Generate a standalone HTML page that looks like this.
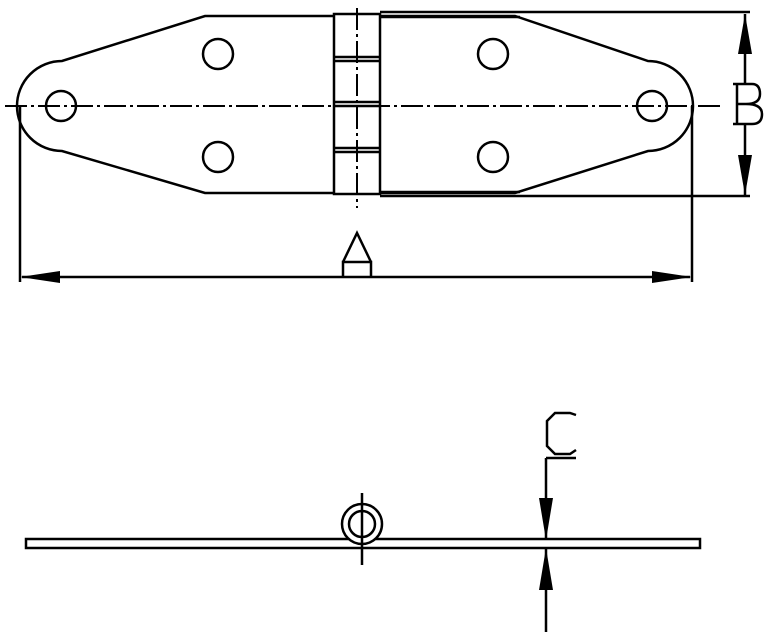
<!DOCTYPE html>
<html><head><meta charset="utf-8"><style>body{margin:0;background:#fff}svg{display:block}</style></head><body>
<svg width="770" height="636" viewBox="0 0 770 636" xmlns="http://www.w3.org/2000/svg" fill="none" stroke="#000" stroke-width="2.5">
<!-- left leaf -->
<path d="M335 16 H205 L62 61 A45 45 0 0 0 62 151 L205 193 H335"/>
<!-- right leaf -->
<path d="M380 16 H515 L648 61 A45 45 0 0 1 648 151 L515 193 H380"/>
<!-- knuckle -->
<rect x="334" y="14" width="46" height="180"/>
<path d="M334 57 H380 M334 61 H380 M334 102 H380 M334 106 H380 M334 148 H380 M334 152 H380"/>
<path d="M380 12 H750 M380 17 H520 M380 192 H520 M380 196 H750"/>
<!-- holes -->
<circle cx="218" cy="54" r="15"/><circle cx="218" cy="157" r="15"/>
<circle cx="493" cy="54" r="15"/><circle cx="493" cy="157" r="15"/>
<circle cx="61" cy="106" r="15"/><circle cx="652" cy="106" r="15"/>
<!-- center lines -->
<path d="M5 106 H720" stroke-width="2" stroke-dasharray="22 4 3 4"/>
<path d="M357 8 V208" stroke-width="2" stroke-dasharray="22 4 3 4"/>
<!-- A dim -->
<path d="M20 106 V282 M692 106 V282 M22 277 H690"/>
<polygon points="20,277 60,271 60,283" fill="#000" stroke="none"/>
<polygon points="692,277 652,271 652,283" fill="#000" stroke="none"/>
<path d="M343 277 V262 H371 V277 M343 262 L357 233 L371 262"/>
<!-- B dim -->
<path d="M745 14 V84 M745 124 V195 M733 84 H752 Q760 84 760 94 Q760 104 746 104 H736 M746 104 Q762 104 762 114 Q762 124 752 124 H733 M737 84 V124"/>
<polygon points="745,14 738,54 752,54" fill="#000" stroke="none"/>
<polygon points="745,195 738,155 752,155" fill="#000" stroke="none"/>
<!-- bottom view -->
<rect x="26" y="539" width="674" height="9"/>
<circle cx="362" cy="524" r="20" fill="#fff"/>
<circle cx="362" cy="524" r="13"/>
<path d="M362 493 V565"/>
<!-- C dim -->
<path d="M546 458 V540 M546 548 V632"/>
<polygon points="546,540 539,498 553,498" fill="#000" stroke="none"/>
<polygon points="546,548 539,590 553,590" fill="#000" stroke="none"/>
<path d="M546 458 H576 M576 415 L570 413 H555 L547 421 V446 L555 454 H570 L576 450"/>
</svg>
</body></html>
